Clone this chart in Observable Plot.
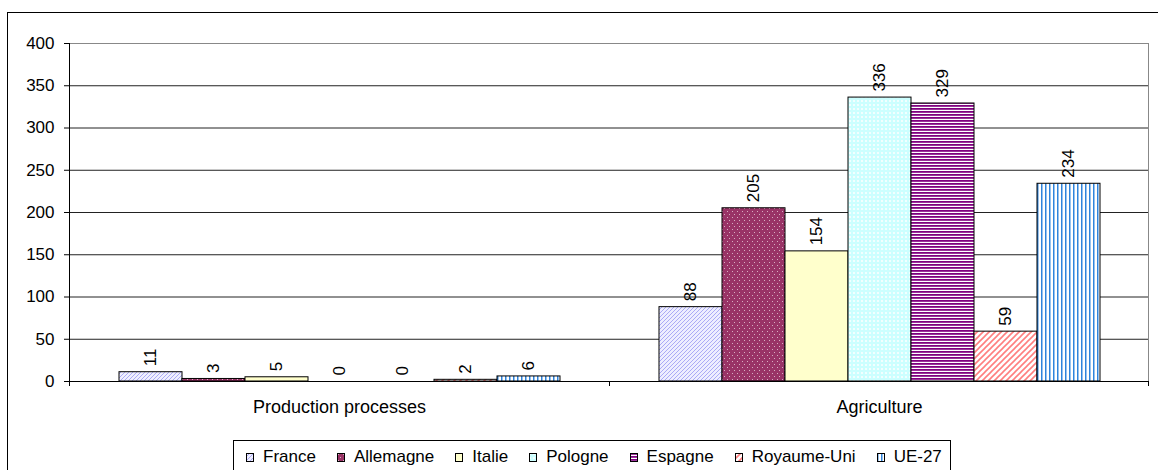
<!DOCTYPE html>
<html>
<head>
<meta charset="utf-8">
<script src="https://cdn.jsdelivr.net/npm/d3@7"></script>
<script src="https://cdn.jsdelivr.net/npm/@observablehq/plot@0.6"></script>
<style>
  html, body { margin: 0; padding: 0; background: #fff; width: 1158px; height: 470px; overflow: hidden; }
  body { position: relative; font-family: "Liberation Sans", Arial, sans-serif; }
  #frame { position: absolute; left: 7px; top: 12px; width: 1300px; height: 600px; border: 1px solid #000; pointer-events: none; }
  #chart { position: absolute; left: 0; top: 0; }
  #chart svg { display: block; }
  #legend { position: absolute; left: 233px; top: 440px; height: 40px; border: 1px solid #000; box-sizing: border-box;
            display: flex; align-items: flex-start; padding: 7px 8px 0 12px; background: #fff; }
  .item { display: flex; align-items: center; height: 18px; margin-right: 21px; font-size: 17px; color: #000; white-space: nowrap; }
  .item:last-child { margin-right: 0; }
  .item svg { margin-right: 9px; display: block; }
</style>
</head>
<body>
<div id="chart"></div>
<div id="legend"></div>
<div id="frame"></div>
<script>
// ---- data ----
const categories = ["Production processes", "Agriculture"];
const countries = ["France", "Allemagne", "Italie", "Pologne", "Espagne", "Royaume-Uni", "UE-27"];
const productionValues = [11, 3, 5, 0, 0, 2, 6];
const agricultureValues = [88, 205, 154, 336, 329, 59, 234];
const yTicks = [0, 50, 100, 150, 200, 250, 300, 350, 400];

const rows = [];
countries.forEach((c, i) => rows.push({category: categories[0], country: c, value: productionValues[i]}));
countries.forEach((c, i) => rows.push({category: categories[1], country: c, value: agricultureValues[i]}));

const patternIds = countries.map((c, i) => `pat${i}`);

const plot = Plot.plot({
  width: 1158,
  height: 440,
  marginLeft: 68,
  marginRight: 9,
  marginTop: 43,
  marginBottom: 59,
  style: {fontFamily: "'Liberation Sans', Arial, sans-serif", fontSize: "17px", color: "#000", background: "transparent", overflow: "visible"},
  fx: {domain: categories, padding: 0, label: null},
  x: {domain: countries, paddingInner: 0, paddingOuter: 0.75, axis: null},
  y: {domain: [0, 400], axis: null},
  color: {domain: countries, range: patternIds.map(id => `url(#${id})`)},
  marks: [
    Plot.ruleY(yTicks.filter(t => t > 0 && t < 400), {stroke: "#222"}),
    Plot.ruleY([400], {stroke: "#888"}),
    Plot.barY(rows, {fx: "category", x: "country", y: "value", fill: "country", stroke: "#000", strokeWidth: 1}),
    Plot.ruleY([0], {stroke: "#000"}),
    Plot.text(rows, {fx: "category", x: "country", y: "value", text: d => String(d.value), rotate: -90,
                     textAnchor: "start", lineAnchor: "middle", dy: -6, fill: "#000", fontSize: 17}),
    Plot.axisY({ticks: yTicks, tickSize: 5, tickPadding: 10, label: null, fontSize: 17}),
    Plot.axisFx({anchor: "bottom", tickSize: 0, tickPadding: 19, label: null, fontSize: 18})
  ]
});

document.getElementById("chart").appendChild(plot);
const svgNode = plot.tagName.toLowerCase() === "svg" ? plot : plot.querySelector("svg");
const svg = d3.select(svgNode);

// ---- fill patterns (styling) ----
const defs = svg.insert("defs", ":first-child");
function pat(id, w, h) {
  return defs.append("pattern").attr("id", id).attr("patternUnits", "userSpaceOnUse")
    .attr("width", w).attr("height", h);
}
// France: lavender fine diagonal hatch
let p = pat("pat0", 4, 4);
p.append("rect").attr("width", 4).attr("height", 4).attr("fill", "#eeeeff");
p.append("path").attr("d", "M0,4L4,0M-1,1L1,-1M3,5L5,3").attr("stroke", "#a4a4f4").attr("stroke-width", 0.9);
// Allemagne: plum with white dots
p = pat("pat1", 5, 6);
p.append("rect").attr("width", 5).attr("height", 6).attr("fill", "#993366");
p.append("rect").attr("x", 1).attr("y", 1).attr("width", 1).attr("height", 1).attr("fill", "#fff").attr("opacity", 0.6);
p.append("rect").attr("x", 3).attr("y", 4).attr("width", 1).attr("height", 1).attr("fill", "#fff").attr("opacity", 0.6);
// Italie: pale yellow
p = pat("pat2", 4, 4);
p.append("rect").attr("width", 4).attr("height", 4).attr("fill", "#ffffcc");
// Pologne: light cyan with white checks
p = pat("pat3", 4, 4);
p.append("rect").attr("width", 4).attr("height", 4).attr("fill", "#ccffff");
p.append("rect").attr("width", 2).attr("height", 2).attr("fill", "#f2ffff");
// Espagne: purple horizontal stripes
p = pat("pat4", 4, 3);
p.append("rect").attr("width", 4).attr("height", 3).attr("fill", "#fff");
p.append("rect").attr("width", 4).attr("height", 1).attr("fill", "#800080");
p.append("rect").attr("y", 1).attr("width", 4).attr("height", 1).attr("fill", "#800080").attr("opacity", 0.8);
// Royaume-Uni: salmon diagonal lines
p = pat("pat5", 6, 6);
p.append("rect").attr("width", 6).attr("height", 6).attr("fill", "#fff");
p.append("path").attr("d", "M0,6L6,0M-1,1L1,-1M5,7L7,5").attr("stroke", "#ff7f7f").attr("stroke-width", 1.6);
// UE-27: blue vertical lines
p = pat("pat6", 4, 4);
p.append("rect").attr("width", 4).attr("height", 4).attr("fill", "#fff");
p.append("rect").attr("width", 1.5).attr("height", 4).attr("fill", "#2f84dc");

// ---- axis lines, category boundary ticks and plot-area border, from the scales ----
const fx = plot.scale("fx"), y = plot.scale("y");
const y0 = y.apply(0), yTop = y.apply(400);
const bounds = categories.map(c => fx.apply(c));
bounds.push(bounds[bounds.length - 1] + fx.bandwidth);
const g = svg.append("g").attr("shape-rendering", "crispEdges");
// right border of plot area (gray)
g.append("line").attr("x1", bounds[bounds.length - 1] - 0.5).attr("x2", bounds[bounds.length - 1] - 0.5)
  .attr("y1", yTop).attr("y2", y0).attr("stroke", "#888");
// left axis line
g.append("line").attr("x1", bounds[0] + 0.5).attr("x2", bounds[0] + 0.5)
  .attr("y1", yTop).attr("y2", y0 + 5).attr("stroke", "#000");
// category boundary ticks
bounds.slice(1).forEach((b, i) => {
  const xx = i === bounds.length - 2 ? b - 0.5 : b + 0.5;
  g.append("line").attr("x1", xx).attr("x2", xx).attr("y1", y0).attr("y2", y0 + 5).attr("stroke", "#000");
});

// ---- legend ----
const legend = d3.select("#legend");
countries.forEach((c, i) => {
  const it = legend.append("div").attr("class", "item");
  const s = it.append("svg").attr("width", 8).attr("height", 9);
  s.append("rect").attr("x", 0.5).attr("y", 0.5).attr("width", 7).attr("height", 8)
    .attr("fill", `url(#${patternIds[i]})`).attr("stroke", "#000");
  it.append("span").text(c);
});
</script>
</body>
</html>
